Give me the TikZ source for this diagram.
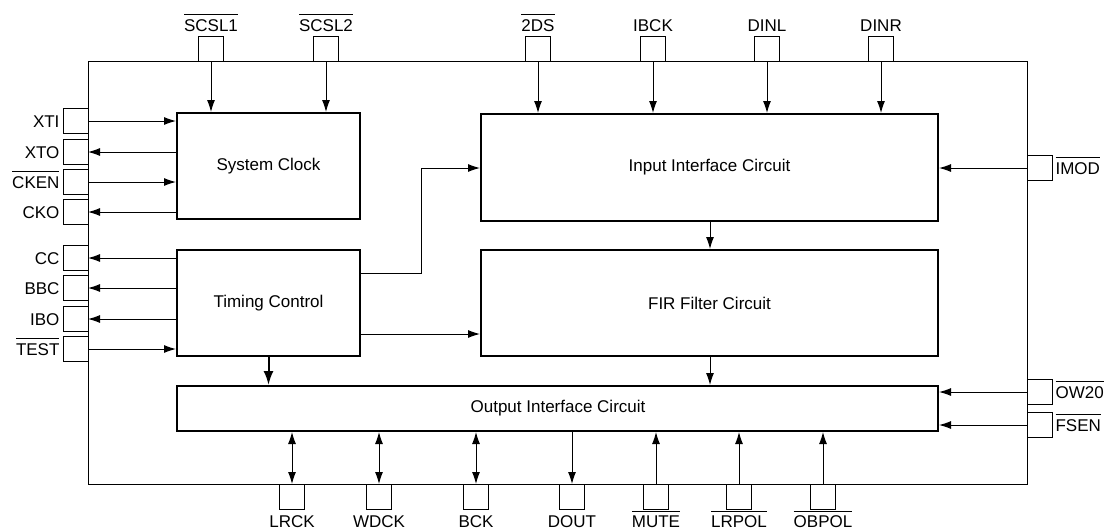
\documentclass[tikz,border=0pt]{standalone}
\usepackage{fontspec}
\setmainfont{Liberation Sans}
\usetikzlibrary{arrows.meta}
\newcommand\ovl[1]{\leavevmode\vbox{\hrule height 1pt \kern 4pt \hbox{#1}}}
\begin{document}
\begin{tikzpicture}[x=1pt,y=-1pt,
  txt/.style={font=\fontsize{17}{20}\selectfont},
  block/.style={draw, line width=2pt, inner sep=0pt, txt},
  pin/.style={draw, line width=1pt, minimum size=25pt, inner sep=0pt, outer sep=0pt},
  lpin/.style={pin, label={[txt, anchor=base east, yshift=-6pt]west:#1}},
  rpin/.style={pin, label={[txt, anchor=base west, yshift=-6pt]east:#1}},
  tpin/.style={pin, label={[txt, anchor=base, yshift=5pt]north:#1}},
  bpin/.style={pin, label={[txt, anchor=base, yshift=-18.5pt]south:#1}},
  sig/.style={line width=1pt, -{Latex[length=12pt,width=8pt]}},
  bsig/.style={line width=1pt, {Latex[length=12pt,width=8pt]}-{Latex[length=12pt,width=8pt]}},
  tsig/.style={line width=2pt, -{Latex[length=14pt,width=10pt]}}]
\useasboundingbox (0,0) rectangle (1109,531);
% chip outline
\node[draw, line width=1pt, minimum width=939pt, minimum height=423pt, inner sep=0pt, outer sep=0pt] (chip) at (557.5,272.5) {};
% blocks
\node[block, minimum width=183pt, minimum height=106pt] (sc) at (268.5,166) {System Clock};
\node[block, minimum width=183pt, minimum height=106pt] (tc) at (268.5,303) {Timing Control};
\node[block, minimum width=457pt, minimum height=107pt] (ii) at (709.5,167.5) {Input Interface Circuit};
\node[block, minimum width=457pt, minimum height=106pt] (fir) at (709.5,303) {FIR Filter Circuit};
\node[block, minimum width=761pt, minimum height=45pt] (oi) at (557.5,408.5) {};
\node[txt, inner sep=0pt] (oitext) at (558,408) {Output Interface Circuit};
% left pins
\node[lpin=XTI] (xti) at (75.5,121) {};
\node[lpin=XTO] (xto) at (75.5,152) {};
\node[lpin=\ovl{CKEN}] (cken) at (75.5,182) {};
\node[lpin=CKO] (cko) at (75.5,212) {};
\node[lpin=CC] (cc) at (75.5,258) {};
\node[lpin=BBC] (bbc) at (75.5,288) {};
\node[lpin=IBO] (ibo) at (75.5,319) {};
\node[lpin=\ovl{TEST}] (test) at (75.5,349) {};
% top pins
\node[tpin=\ovl{SCSL1}] (scsl1) at (211,48.5) {};
\node[tpin=\ovl{SCSL2}] (scsl2) at (326,48.5) {};
\node[tpin=\ovl{2DS}] (tds) at (538,48.5) {};
\node[tpin=IBCK] (ibck) at (653,48.5) {};
\node[tpin=DINL] (dinl) at (767,48.5) {};
\node[tpin=DINR] (dinr) at (881,48.5) {};
% right pins
\node[rpin=\ovl{IMOD}] (imod) at (1039.5,168) {};
\node[rpin=\ovl{OW20}] (ow) at (1039.5,392) {};
\node[rpin=\ovl{FSEN}] (fsen) at (1039.5,425) {};
% bottom pins
\node[bpin=LRCK] (lrck) at (292,496.5) {};
\node[bpin=WDCK] (wdck) at (379,496.5) {};
\node[bpin=BCK] (bck) at (476,496.5) {};
\node[bpin=DOUT] (dout) at (572,496.5) {};
\node[bpin=\ovl{MUTE}] (mute) at (656,496.5) {};
\node[bpin=\ovl{LRPOL}] (lrpol) at (739,496.5) {};
\node[bpin=\ovl{OBPOL}] (obpol) at (823,496.5) {};
% left connectors
\draw[sig] (xti.east) -- (sc.west |- xti.east);
\draw[sig] (sc.west |- xto.east) -- (xto.east);
\draw[sig] (cken.east) -- (sc.west |- cken.east);
\draw[sig] (sc.west |- cko.east) -- (cko.east);
\draw[sig] (tc.west |- cc.east) -- (cc.east);
\draw[sig] (tc.west |- bbc.east) -- (bbc.east);
\draw[sig] (tc.west |- ibo.east) -- (ibo.east);
\draw[sig] (test.east) -- (tc.west |- test.east);
% top connectors
\draw[sig] (scsl1.south) -- (sc.north -| scsl1.south);
\draw[sig] (scsl2.south) -- (sc.north -| scsl2.south);
\draw[sig] (tds.south) -- (ii.north -| tds.south);
\draw[sig] (ibck.south) -- (ii.north -| ibck.south);
\draw[sig] (dinl.south) -- (ii.north -| dinl.south);
\draw[sig] (dinr.south) -- (ii.north -| dinr.south);
% right connectors
\draw[sig] (imod.west) -- (ii.east |- imod.west);
\draw[sig] (ow.west) -- (oi.east |- ow.west);
\draw[sig] (fsen.west) -- (oi.east |- fsen.west);
% internal
\coordinate (bend) at (421,168);
\draw[sig] ([yshift=30pt]tc.east) -| (bend) -- (ii.west |- bend);
\draw[sig] ([yshift=-31pt]tc.east) -- (fir.west |- 0,334);
\draw[tsig] (tc.south) -- (oi.north -| tc.south);
\draw[sig] (ii.south -| 710,0) -- (fir.north -| 710,0);
\draw[sig] (fir.south -| 710,0) -- (oi.north -| 710,0);
% bottom connectors
\draw[bsig] (oi.south -| lrck.north) -- (lrck.north);
\draw[bsig] (oi.south -| wdck.north) -- (wdck.north);
\draw[bsig] (oi.south -| bck.north) -- (bck.north);
\draw[sig] (oi.south -| dout.north) -- (dout.north);
\draw[sig] (mute.north) -- (oi.south -| mute.north);
\draw[sig] (lrpol.north) -- (oi.south -| lrpol.north);
\draw[sig] (obpol.north) -- (oi.south -| obpol.north);
\end{tikzpicture}
\end{document}
